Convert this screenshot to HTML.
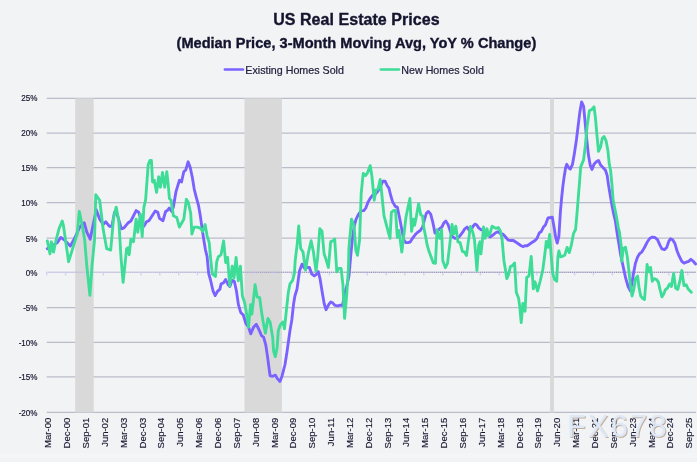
<!DOCTYPE html>
<html><head><meta charset="utf-8"><title>US Real Estate Prices</title>
<style>
html,body{margin:0;padding:0;}
body{width:697px;height:462px;overflow:hidden;background:#f2f3f5;font-family:"Liberation Sans",sans-serif;}
svg{display:block}
.t{font-weight:bold;fill:#14142e;stroke:#14142e;stroke-width:0.35;text-anchor:middle;}
.yl text{font-size:9.5px;fill:#17172f;stroke:#17172f;stroke-width:0.2;text-anchor:end;}
.xl text{font-size:9.5px;fill:#17172f;stroke:#17172f;stroke-width:0.15;text-anchor:end;}
.lg text{font-size:10.7px;fill:#1f1f3c;stroke:#1f1f3c;stroke-width:0.22;}
.grid line{stroke:#bbbcc9;stroke-width:1.25;}
.ticks line{stroke:#d6d4f2;stroke-width:1.5;}
</style></head><body>
<svg width="697" height="462" viewBox="0 0 697 462">
<defs><linearGradient id="zg" gradientUnits="userSpaceOnUse" x1="46" y1="0" x2="696" y2="0"><stop offset="0" stop-color="#85839b" stop-opacity="0.1"/><stop offset="0.12" stop-color="#85839b" stop-opacity="0.25"/><stop offset="0.3" stop-color="#85839b" stop-opacity="0.6"/><stop offset="0.42" stop-color="#85839b" stop-opacity="1"/><stop offset="1" stop-color="#85839b" stop-opacity="1"/></linearGradient></defs>
<rect x="0" y="0" width="697" height="462" fill="#f2f3f5"/>
<rect x="0" y="453" width="697" height="5" fill="#f4f5f7"/><rect x="0" y="458" width="697" height="4" fill="#f1f2f4"/>
<g class="grid"><line x1="46.7" x2="696" y1="98.4" y2="98.4"/><line x1="46.7" x2="696" y1="133.0" y2="133.0"/><line x1="46.7" x2="696" y1="167.7" y2="167.7"/><line x1="46.7" x2="696" y1="202.5" y2="202.5"/><line x1="46.7" x2="696" y1="238.1" y2="238.1"/><line x1="46.7" x2="696" y1="307.7" y2="307.7"/><line x1="46.7" x2="696" y1="342.4" y2="342.4"/><line x1="46.7" x2="696" y1="376.9" y2="376.9"/><line x1="46.7" x2="696" y1="412.4" y2="412.4"/></g>
<rect x="75.2" y="98.4" width="18.5" height="314" fill="#d9d9d9"/>
<rect x="244.5" y="98.4" width="37.4" height="314" fill="#d9d9d9"/>
<rect x="550.0" y="98.4" width="4.0" height="314" fill="#d9d9d9"/>
<line x1="46.7" x2="696" y1="272.2" y2="272.2" stroke="#c3c1e3" stroke-width="1"/>
<g class="ticks"><line x1="46.7" x2="46.7" y1="272.2" y2="275.5"/><line x1="65.6" x2="65.6" y1="272.2" y2="275.5"/><line x1="84.4" x2="84.4" y1="272.2" y2="275.5"/><line x1="103.3" x2="103.3" y1="272.2" y2="275.5"/><line x1="122.1" x2="122.1" y1="272.2" y2="275.5"/><line x1="141.0" x2="141.0" y1="272.2" y2="275.5"/><line x1="159.8" x2="159.8" y1="272.2" y2="275.5"/><line x1="178.7" x2="178.7" y1="272.2" y2="275.5"/><line x1="197.5" x2="197.5" y1="272.2" y2="275.5"/><line x1="216.4" x2="216.4" y1="272.2" y2="275.5"/><line x1="235.2" x2="235.2" y1="272.2" y2="275.5"/><line x1="254.1" x2="254.1" y1="272.2" y2="275.5"/><line x1="273.0" x2="273.0" y1="272.2" y2="275.5"/><line x1="291.8" x2="291.8" y1="272.2" y2="275.5"/><line x1="310.7" x2="310.7" y1="272.2" y2="275.5"/><line x1="329.5" x2="329.5" y1="272.2" y2="275.5"/><line x1="348.4" x2="348.4" y1="272.2" y2="275.5"/><line x1="367.2" x2="367.2" y1="272.2" y2="275.5"/><line x1="386.1" x2="386.1" y1="272.2" y2="275.5"/><line x1="404.9" x2="404.9" y1="272.2" y2="275.5"/><line x1="423.8" x2="423.8" y1="272.2" y2="275.5"/><line x1="442.7" x2="442.7" y1="272.2" y2="275.5"/><line x1="461.5" x2="461.5" y1="272.2" y2="275.5"/><line x1="480.4" x2="480.4" y1="272.2" y2="275.5"/><line x1="499.2" x2="499.2" y1="272.2" y2="275.5"/><line x1="518.1" x2="518.1" y1="272.2" y2="275.5"/><line x1="536.9" x2="536.9" y1="272.2" y2="275.5"/><line x1="555.8" x2="555.8" y1="272.2" y2="275.5"/><line x1="574.6" x2="574.6" y1="272.2" y2="275.5"/><line x1="593.5" x2="593.5" y1="272.2" y2="275.5"/><line x1="612.4" x2="612.4" y1="272.2" y2="275.5"/><line x1="631.2" x2="631.2" y1="272.2" y2="275.5"/><line x1="650.1" x2="650.1" y1="272.2" y2="275.5"/><line x1="668.9" x2="668.9" y1="272.2" y2="275.5"/><line x1="687.8" x2="687.8" y1="272.2" y2="275.5"/></g>
<line x1="46.2" x2="696" y1="272.2" y2="272.2" stroke="url(#zg)" stroke-width="1.1" stroke-dasharray="1 1.095"/>
<g fill="none" stroke-linejoin="round" stroke-linecap="round" stroke-width="2.85">
<path stroke="#7b61ff" d="M47.3,248.7 L53.0,245.2 L57.3,242.6 L60.8,237.4 L64.2,239.7 L70.3,246.1 L74.6,238.3 L79.8,227.0 L84.2,222.7 L86.8,232.2 L90.2,239.2 L92.8,226.2 L96.3,209.7 L99.7,219.2 L103.2,224.4 L105.8,221.8 L109.3,226.2 L111.9,226.2 L114.5,212.3 L117.1,214.1 L121.4,228.8 L124.0,227.9 L128.3,222.7 L130.9,221.0 L136.1,210.6 L138.7,212.3 L142.2,222.7 L143.9,226.2 L146.5,221.8 L149.1,220.6 L155.2,210.9 L157.8,212.3 L159.5,218.4 L163.0,220.7 L165.6,211.5 L167.3,210.6 L169.4,208.0 L171.7,211.5 L173.4,207.1 L176.0,191.6 L179.4,180.3 L181.5,182.0 L183.8,171.7 L185.8,169.9 L188.1,161.8 L190.2,167.3 L192.4,177.7 L194.2,189.0 L195.9,195.9 L198.5,205.4 L200.2,215.0 L201.9,227.1 L203.7,239.2 L205.4,249.6 L207.1,256.6 L208.7,273.5 L210.4,279.5 L213.0,290.8 L215.2,295.6 L217.3,291.6 L219.9,289.1 L221.1,283.9 L223.4,283.0 L225.6,279.5 L228.1,284.7 L229.8,286.4 L232.0,280.4 L234.3,281.3 L236.4,290.8 L238.4,304.6 L240.7,312.4 L243.3,315.0 L245.9,323.7 L248.5,326.9 L250.7,333.9 L253.7,326.9 L256.3,324.3 L258.9,329.5 L261.5,335.6 L263.7,337.3 L265.8,345.1 L267.5,356.4 L269.3,370.2 L270.1,375.8 L272.7,376.3 L275.3,375.1 L277.6,378.9 L280.0,381.5 L282.2,375.4 L284.9,365.0 L286.6,354.6 L288.3,342.5 L290.0,330.4 L291.8,320.0 L293.5,304.6 L294.9,296.0 L297.0,289.1 L299.5,271.0 L302.1,264.1 L304.7,268.4 L307.3,267.5 L309.4,267.5 L311.6,273.6 L312.1,274.2 L314.3,276.0 L316.6,274.2 L318.3,271.6 L320.0,278.6 L322.1,291.6 L324.2,303.7 L326.1,309.7 L328.7,304.6 L330.8,301.9 L332.5,302.8 L335.1,305.4 L337.7,305.8 L340.3,305.1 L342.6,305.4 L344.6,293.3 L346.7,286.4 L349.0,276.0 L350.6,257.1 L352.3,239.8 L354.2,226.2 L356.0,219.3 L358.6,214.1 L361.2,210.9 L363.8,210.6 L365.8,208.0 L368.1,201.9 L370.7,197.6 L372.9,195.0 L375.4,194.2 L377.6,191.6 L380.2,187.2 L382.8,181.2 L385.1,181.2 L387.1,185.5 L388.9,188.1 L390.6,195.0 L392.6,201.9 L395.2,206.3 L397.3,207.1 L399.5,217.5 L401.8,229.6 L403.9,240.0 L405.9,242.6 L408.2,242.6 L410.4,241.8 L412.5,238.3 L415.1,234.8 L417.7,232.2 L420.3,230.5 L422.6,227.0 L424.6,219.2 L426.4,213.2 L428.4,211.4 L430.7,214.1 L432.9,222.7 L435.0,233.1 L436.8,232.2 L439.4,228.8 L441.9,227.0 L444.0,222.7 L445.8,221.0 L448.0,224.4 L450.3,231.4 L452.3,236.6 L454.9,238.3 L457.5,238.3 L460.1,235.7 L462.7,232.2 L464.8,228.8 L467.1,227.0 L469.3,230.5 L471.4,229.6 L473.1,226.2 L474.9,224.1 L476.6,224.8 L478.7,227.9 L480.9,229.6 L483.5,230.5 L486.1,232.2 L488.7,235.7 L490.0,237.0 L492.6,235.3 L495.2,233.1 L497.8,231.8 L500.4,233.6 L503.0,234.1 L505.6,237.0 L508.2,240.2 L510.8,240.5 L513.4,240.5 L516.0,242.2 L518.6,244.0 L521.2,245.7 L522.9,246.6 L525.5,245.7 L527.2,245.7 L529.8,244.0 L532.4,242.2 L535.0,240.5 L536.8,238.8 L539.4,232.7 L541.1,231.8 L543.7,226.7 L545.4,224.9 L548.0,218.0 L550.6,217.5 L552.3,217.1 L554.1,227.5 L555.8,237.9 L557.2,243.1 L558.9,236.2 L560.4,211.9 L561.6,198.1 L562.9,186.0 L564.2,176.4 L565.6,167.8 L566.8,164.3 L568.6,167.7 L570.3,169.1 L572.5,164.3 L574.3,153.9 L576.4,140.0 L578.1,126.2 L579.8,112.3 L581.6,101.9 L583.6,106.3 L585.0,121.0 L586.8,140.0 L588.5,155.6 L590.2,165.1 L592.0,169.5 L594.0,164.3 L596.3,161.7 L598.5,160.4 L600.6,165.1 L603.2,167.7 L605.5,170.3 L607.2,175.6 L608.4,184.2 L610.1,194.6 L611.9,205.0 L613.6,213.7 L615.3,220.6 L617.2,233.7 L618.9,244.1 L620.6,254.4 L622.4,263.1 L624.1,270.9 L625.8,278.7 L628.1,286.5 L630.3,290.8 L632.1,282.1 L633.8,271.8 L635.5,263.1 L637.6,257.0 L639.7,253.6 L641.9,251.8 L644.5,247.5 L647.1,242.3 L649.7,238.5 L652.3,237.1 L654.9,237.5 L657.5,239.7 L659.8,244.9 L661.9,248.9 L664.5,249.6 L666.7,247.5 L668.8,241.4 L670.5,238.8 L672.6,239.7 L674.8,243.2 L677.1,251.0 L679.2,256.2 L681.8,261.4 L684.0,263.1 L686.4,262.2 L688.7,261.4 L690.9,259.3 L693.0,261.0 L695.6,264.0"/>
<path stroke="#3ddc97" d="M47.3,240.9 L48.7,246.9 L50.0,253.9 L51.4,241.8 L53.5,252.1 L56.5,238.3 L59.0,228.8 L62.2,221.0 L63.4,225.3 L68.6,261.7 L77.2,234.0 L79.3,211.4 L82.4,226.2 L84.7,240.0 L86.8,266.0 L89.9,295.4 L92.0,266.0 L94.5,240.0 L95.8,194.7 L99.7,200.2 L103.2,229.6 L106.7,248.7 L110.7,250.1 L113.6,217.5 L116.2,207.1 L118.8,221.0 L121.0,257.3 L123.1,282.4 L125.2,262.5 L126.6,248.7 L128.0,247.8 L129.2,254.7 L130.9,239.2 L133.5,241.8 L136.1,219.2 L137.8,232.2 L140.4,214.1 L142.2,236.6 L143.9,207.1 L145.6,200.2 L148.2,164.7 L150.0,160.4 L151.4,160.4 L152.6,182.0 L154.3,180.3 L156.6,192.4 L158.7,176.8 L160.4,187.2 L162.5,172.5 L164.7,187.2 L166.8,171.7 L168.2,184.6 L169.4,198.5 L171.1,200.2 L173.4,215.8 L176.8,217.5 L179.4,227.1 L183.8,219.3 L186.4,199.3 L188.4,202.8 L190.7,213.2 L191.9,234.1 L194.2,227.1 L196.8,227.1 L200.2,228.0 L202.8,231.4 L205.1,224.5 L207.1,235.8 L209.2,242.7 L210.6,258.3 L212.3,273.9 L215.4,276.5 L216.7,261.8 L218.4,256.6 L221.0,254.8 L223.6,241.0 L225.7,262.6 L227.6,257.4 L229.7,286.0 L232.2,266.1 L234.0,278.2 L236.1,257.4 L238.3,280.8 L240.4,266.1 L242.4,296.0 L244.7,302.9 L246.8,315.0 L248.5,327.1 L250.6,304.6 L251.9,314.2 L255.1,284.7 L257.1,296.8 L259.7,297.7 L261.5,311.6 L263.2,321.9 L265.4,333.2 L267.9,318.5 L270.1,321.9 L272.7,337.5 L273.6,351.2 L275.3,356.7 L277.1,347.7 L278.3,330.6 L280.5,324.6 L282.8,321.9 L284.5,328.9 L286.6,308.1 L288.3,292.5 L290.0,283.9 L292.6,280.4 L294.4,273.5 L295.2,260.6 L297.3,243.3 L298.7,226.0 L300.7,248.5 L303.0,251.9 L305.6,270.1 L308.2,253.7 L311.1,240.7 L313.4,251.9 L316.0,271.0 L317.7,257.1 L319.8,228.6 L322.0,231.2 L324.1,253.7 L326.4,260.6 L328.4,267.5 L330.7,241.6 L333.3,240.7 L334.7,239.0 L336.8,271.9 L338.8,268.4 L341.1,268.4 L342.9,284.6 L344.6,318.4 L346.7,295.0 L348.4,269.1 L348.9,248.5 L351.5,219.1 L354.1,226.0 L355.8,250.2 L357.5,255.4 L359.6,239.8 L361.2,193.3 L363.2,173.4 L365.5,175.6 L367.2,173.4 L370.2,165.6 L371.9,176.0 L374.2,200.2 L375.9,189.8 L378.1,189.0 L380.2,179.4 L381.9,195.0 L384.0,215.8 L390.0,238.3 L391.4,212.3 L393.5,210.6 L395.5,210.2 L397.3,237.4 L399.0,230.5 L400.7,243.5 L401.8,252.1 L403.9,234.8 L405.9,217.5 L408.2,206.3 L409.9,198.5 L411.6,231.4 L413.4,219.2 L414.6,225.3 L416.0,218.4 L417.7,208.8 L418.6,203.7 L420.8,214.9 L422.6,215.8 L423.8,227.9 L425.5,235.7 L427.2,245.2 L429.0,251.3 L431.6,258.2 L433.3,262.9 L435.4,263.4 L437.1,229.6 L438.5,236.6 L439.9,238.3 L441.6,229.6 L442.8,260.8 L445.4,267.7 L447.5,263.4 L449.7,245.2 L452.0,224.4 L453.7,234.0 L455.8,226.2 L457.9,241.8 L460.1,242.6 L462.4,251.3 L464.5,252.1 L466.5,255.6 L468.3,241.8 L470.5,226.5 L472.8,232.2 L474.5,240.0 L475.7,254.7 L476.9,270.3 L478.7,245.2 L480.0,241.8 L480.9,253.9 L482.6,238.3 L483.5,227.0 L485.2,238.3 L487.0,228.8 L488.4,235.7 L490.0,233.6 L492.1,226.1 L494.3,227.5 L496.1,228.4 L498.3,227.5 L500.4,231.0 L502.1,239.6 L503.9,260.4 L505.6,270.8 L506.8,278.6 L508.7,274.3 L510.4,266.5 L512.5,265.6 L514.6,263.0 L516.3,292.2 L518.6,298.3 L519.8,306.9 L521.2,322.5 L522.9,303.5 L525.1,311.3 L526.7,277.5 L529.0,275.8 L531.2,256.4 L533.3,288.8 L535.0,281.8 L537.6,291.0 L540.2,281.0 L542.8,269.7 L544.5,256.9 L546.3,241.4 L548.0,247.4 L549.7,234.4 L551.0,253.5 L552.7,273.2 L554.4,279.2 L556.7,281.3 L557.9,256.7 L558.9,250.9 L560.6,256.9 L562.7,256.1 L564.8,255.2 L567.1,247.4 L569.3,252.6 L571.4,244.8 L573.5,233.6 L575.2,230.1 L575.5,230.1 L576.7,217.1 L578.1,199.8 L579.5,182.5 L580.7,166.9 L583.6,159.9 L585.4,145.2 L587.1,126.2 L589.4,110.6 L591.6,109.7 L594.0,106.8 L595.4,117.5 L597.1,136.6 L598.5,151.3 L600.6,146.9 L602.3,138.3 L604.1,136.6 L606.1,140.9 L607.9,150.4 L609.3,164.3 L610.6,170.4 L611.9,184.2 L613.1,199.8 L614.8,208.5 L616.5,217.1 L618.3,227.5 L619.4,231.9 L621.2,245.8 L621.7,261.4 L623.4,248.4 L625.5,247.2 L627.2,256.2 L629.0,271.8 L630.7,287.3 L632.1,296.0 L633.8,289.1 L635.5,278.7 L637.6,276.1 L639.0,287.3 L640.7,296.0 L642.8,298.6 L644.5,299.5 L645.9,282.1 L647.1,264.5 L648.9,271.8 L650.6,267.4 L652.3,281.3 L654.1,278.7 L656.6,279.6 L658.4,282.1 L660.1,289.9 L661.9,296.9 L663.6,294.3 L665.3,289.9 L667.4,288.2 L669.6,283.9 L671.4,286.5 L673.6,273.5 L675.7,288.2 L677.8,289.4 L680.0,280.4 L681.8,270.4 L684.0,285.6 L686.1,284.7 L688.2,289.1 L691.3,292.2"/>
</g>
<text class="t" x="356.4" y="24.6" font-size="16" letter-spacing="0.05">US Real Estate Prices</text>
<text class="t" x="356.4" y="48.1" font-size="14.6">(Median Price, 3-Month Moving Avg, YoY % Change)</text>
<g class="lg">
<line x1="224.8" x2="243" y1="69.5" y2="69.5" stroke="#7b61ff" stroke-width="2.4" stroke-linecap="round"/>
<text x="245.3" y="73.6">Existing Homes Sold</text>
<line x1="380.8" x2="399" y1="69.5" y2="69.5" stroke="#3ddc97" stroke-width="2.4" stroke-linecap="round"/>
<text x="401.3" y="73.6">New Homes Sold</text>
</g>
<g class="yl"><text transform="translate(37.5,101.0) scale(0.85,1)">25%</text><text transform="translate(37.5,136.4) scale(0.85,1)">20%</text><text transform="translate(37.5,171.1) scale(0.85,1)">15%</text><text transform="translate(37.5,205.9) scale(0.85,1)">10%</text><text transform="translate(37.5,241.5) scale(0.85,1)">5%</text><text transform="translate(37.5,275.6) scale(0.85,1)">0%</text><text transform="translate(37.5,311.1) scale(0.85,1)">-5%</text><text transform="translate(37.5,345.8) scale(0.85,1)">-10%</text><text transform="translate(37.5,380.3) scale(0.85,1)">-15%</text><text transform="translate(37.5,415.8) scale(0.85,1)">-20%</text></g>
<g class="xl"><text transform="translate(51.2,417.8) rotate(-90)">Mar-00</text><text transform="translate(70.1,417.8) rotate(-90)">Dec-00</text><text transform="translate(88.9,417.8) rotate(-90)">Sep-01</text><text transform="translate(107.8,417.8) rotate(-90)">Jun-02</text><text transform="translate(126.6,417.8) rotate(-90)">Mar-03</text><text transform="translate(145.5,417.8) rotate(-90)">Dec-03</text><text transform="translate(164.3,417.8) rotate(-90)">Sep-04</text><text transform="translate(183.2,417.8) rotate(-90)">Jun-05</text><text transform="translate(202.0,417.8) rotate(-90)">Mar-06</text><text transform="translate(220.9,417.8) rotate(-90)">Dec-06</text><text transform="translate(239.8,417.8) rotate(-90)">Sep-07</text><text transform="translate(258.6,417.8) rotate(-90)">Jun-08</text><text transform="translate(277.5,417.8) rotate(-90)">Mar-09</text><text transform="translate(296.3,417.8) rotate(-90)">Dec-09</text><text transform="translate(315.2,417.8) rotate(-90)">Sep-10</text><text transform="translate(334.0,417.8) rotate(-90)">Jun-11</text><text transform="translate(352.9,417.8) rotate(-90)">Mar-12</text><text transform="translate(371.7,417.8) rotate(-90)">Dec-12</text><text transform="translate(390.6,417.8) rotate(-90)">Sep-13</text><text transform="translate(409.4,417.8) rotate(-90)">Jun-14</text><text transform="translate(428.3,417.8) rotate(-90)">Mar-15</text><text transform="translate(447.2,417.8) rotate(-90)">Dec-15</text><text transform="translate(466.0,417.8) rotate(-90)">Sep-16</text><text transform="translate(484.9,417.8) rotate(-90)">Jun-17</text><text transform="translate(503.7,417.8) rotate(-90)">Mar-18</text><text transform="translate(522.6,417.8) rotate(-90)">Dec-18</text><text transform="translate(541.4,417.8) rotate(-90)">Sep-19</text><text transform="translate(560.3,417.8) rotate(-90)">Jun-20</text><text transform="translate(579.1,417.8) rotate(-90)">Mar-21</text><text transform="translate(598.0,417.8) rotate(-90)">Dec-21</text><text transform="translate(616.9,417.8) rotate(-90)">Sep-22</text><text transform="translate(635.7,417.8) rotate(-90)">Jun-23</text><text transform="translate(654.6,417.8) rotate(-90)">Mar-24</text><text transform="translate(673.4,417.8) rotate(-90)">Dec-24</text><text transform="translate(692.3,417.8) rotate(-90)">Sep-25</text></g>
<g font-family="'Liberation Sans',sans-serif" font-size="31" letter-spacing="2.1">
<text x="567.9" y="438" fill="#b9a08a" opacity="0.8">FX678</text>
<text x="566.9" y="437" fill="#dde9f8">FX678</text>
</g>
</svg>
</body></html>
